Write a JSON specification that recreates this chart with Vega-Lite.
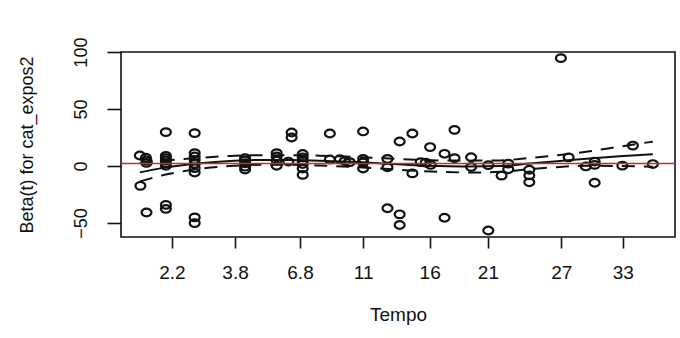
{
  "$schema": "https://vega.github.io/schema/vega-lite/v6.json",
  "width": 554,
  "height": 185,
  "autosize": {"type": "none"},
  "padding": {"left": 121, "top": 52, "right": 5, "bottom": 101},
  "background": "white",
  "config": {
    "view": {"stroke": "#111111", "strokeWidth": 1.6},
    "font": "Liberation Sans"
  },
  "datasets": {
    "resid": [
      {"t": 3.4, "beta": 9.3}, {"t": 3.5, "beta": -17.3},
      {"t": 4.5, "beta": 7.3}, {"t": 4.6, "beta": 4.9}, {"t": 4.6, "beta": 2.8}, {"t": 4.6, "beta": -40.7},
      {"t": 8.1, "beta": 29.8}, {"t": 8.1, "beta": 9.0}, {"t": 8.1, "beta": 7.0}, {"t": 8.1, "beta": 4.9}, {"t": 8.1, "beta": 2.6}, {"t": 8.1, "beta": 0.3}, {"t": 8.1, "beta": -34.0}, {"t": 8.1, "beta": -37.5},
      {"t": 13.3, "beta": 28.9}, {"t": 13.3, "beta": 11.4}, {"t": 13.3, "beta": 8.4}, {"t": 13.3, "beta": 5.5}, {"t": 13.3, "beta": 2.0}, {"t": 13.3, "beta": -1.8}, {"t": 13.3, "beta": -5.6}, {"t": 13.3, "beta": -45.0}, {"t": 13.3, "beta": -50.0},
      {"t": 22.4, "beta": 7.0}, {"t": 22.4, "beta": 5.0}, {"t": 22.4, "beta": 2.5}, {"t": 22.4, "beta": -0.5}, {"t": 22.4, "beta": -3.0},
      {"t": 28.1, "beta": 11.4}, {"t": 28.1, "beta": 8.4}, {"t": 28.1, "beta": 4.9}, {"t": 28.1, "beta": 0.3}, {"t": 30.2, "beta": 4.0},
      {"t": 30.8, "beta": 29.5}, {"t": 30.8, "beta": 25.1},
      {"t": 32.8, "beta": 10.6}, {"t": 32.8, "beta": 7.7}, {"t": 32.8, "beta": 4.7}, {"t": 32.8, "beta": 1.8}, {"t": 32.8, "beta": -2.1}, {"t": 32.8, "beta": -7.7},
      {"t": 37.7, "beta": 28.6}, {"t": 37.7, "beta": 5.8},
      {"t": 39.5, "beta": 6.0}, {"t": 40.4, "beta": 4.5}, {"t": 41.3, "beta": 3.5},
      {"t": 43.7, "beta": 30.4}, {"t": 43.7, "beta": 6.3}, {"t": 43.7, "beta": 3.3}, {"t": 43.7, "beta": -2.1},
      {"t": 48.1, "beta": 6.3}, {"t": 48.1, "beta": -1.0}, {"t": 48.1, "beta": -37.0},
      {"t": 50.3, "beta": 21.6}, {"t": 50.3, "beta": -42.3}, {"t": 50.3, "beta": -51.7},
      {"t": 52.6, "beta": 28.6}, {"t": 52.6, "beta": -6.4},
      {"t": 54.1, "beta": 3.5}, {"t": 55.0, "beta": 3.0}, {"t": 55.9, "beta": 1.0}, {"t": 55.8, "beta": 16.7},
      {"t": 58.4, "beta": 10.8}, {"t": 58.4, "beta": -45.3},
      {"t": 60.2, "beta": 31.8}, {"t": 60.2, "beta": 7.0},
      {"t": 63.2, "beta": 7.8}, {"t": 63.2, "beta": -0.8},
      {"t": 66.3, "beta": 0.8}, {"t": 66.3, "beta": -56.5},
      {"t": 68.7, "beta": -8.3},
      {"t": 69.9, "beta": 2.2}, {"t": 69.9, "beta": -2.8},
      {"t": 73.7, "beta": -3.2}, {"t": 73.7, "beta": -8.2}, {"t": 73.7, "beta": -14.2},
      {"t": 79.4, "beta": 94.7}, {"t": 80.8, "beta": 7.7}, {"t": 83.9, "beta": -0.3},
      {"t": 85.5, "beta": 4.0}, {"t": 85.5, "beta": 1.1}, {"t": 85.5, "beta": -14.6},
      {"t": 90.5, "beta": 0.4}, {"t": 92.4, "beta": 18.0}, {"t": 96.0, "beta": 1.8}
    ],
    "smooth": [
      {"t": 3.4, "fit": -5.5, "upper": 2.5, "lower": -13.5},
      {"t": 7.1, "fit": -2.0, "upper": 4.5, "lower": -8.5},
      {"t": 10.7, "fit": 0.5, "upper": 6.0, "lower": -5.0},
      {"t": 14.3, "fit": 2.5, "upper": 7.3, "lower": -2.3},
      {"t": 19.7, "fit": 4.5, "upper": 8.9, "lower": 0.1},
      {"t": 25.1, "fit": 5.3, "upper": 9.5, "lower": 1.1},
      {"t": 30.5, "fit": 5.3, "upper": 9.5, "lower": 1.1},
      {"t": 35.9, "fit": 4.8, "upper": 9.1, "lower": 0.5},
      {"t": 41.3, "fit": 3.8, "upper": 8.2, "lower": -0.6},
      {"t": 46.7, "fit": 2.5, "upper": 7.1, "lower": -2.1},
      {"t": 52.1, "fit": 1.0, "upper": 5.8, "lower": -3.8},
      {"t": 57.5, "fit": 0.0, "upper": 5.0, "lower": -5.0},
      {"t": 62.9, "fit": -0.4, "upper": 4.8, "lower": -5.6},
      {"t": 68.4, "fit": 0.0, "upper": 5.0, "lower": -5.0},
      {"t": 73.8, "fit": 2.2, "upper": 7.1, "lower": -2.7},
      {"t": 79.2, "fit": 4.5, "upper": 9.7, "lower": -0.7},
      {"t": 84.6, "fit": 6.7, "upper": 13.0, "lower": 0.4},
      {"t": 90.0, "fit": 8.6, "upper": 17.1, "lower": 0.1},
      {"t": 96.0, "fit": 10.5, "upper": 21.5, "lower": -0.5}
    ],
    "coef": [{"beta": 2.3}]
  },
  "layer": [
    {
      "data": {"name": "resid"},
      "mark": {
        "type": "point",
        "shape": "M-1.3,0A1.3,1 0 1,0 1.3,0A1.3,1 0 1,0 -1.3,0Z",
        "filled": false,
        "color": "#111111",
        "strokeWidth": 2.2,
        "size": 58,
        "opacity": 1
      },
      "encoding": {
        "x": {
          "field": "t",
          "type": "quantitative",
          "scale": {"domain": [0, 100], "nice": false, "zero": false},
          "axis": {
            "title": "Tempo",
            "values": [9.19, 20.59, 32.31, 43.71, 55.71, 66.23, 79.46, 90.56],
            "labelExpr": "datum.value < 15 ? '2.2' : datum.value < 26 ? '3.8' : datum.value < 38 ? '6.8' : datum.value < 50 ? '11' : datum.value < 60 ? '16' : datum.value < 72 ? '21' : datum.value < 85 ? '27' : '33'",
            "domain": false,
            "grid": false,
            "tickSize": 11,
            "tickWidth": 1.6,
            "tickColor": "#111111",
            "labelFont": "Liberation Sans",
            "labelFontSize": 19,
            "labelColor": "#111111",
            "labelPadding": 15,
            "labelBaseline": "top",
            "labelFlush": false,
            "labelOverlap": false,
            "titleFont": "Liberation Sans",
            "titleFontSize": 19,
            "titleFontWeight": "normal",
            "titleColor": "#111111",
            "titleX": 277,
            "titleY": 83.7,
            "titleAlign": "center",
            "titleBaseline": "alphabetic"
          }
        },
        "y": {
          "field": "beta",
          "type": "quantitative",
          "scale": {"domain": [-62.2, 100.1], "nice": false, "zero": false},
          "axis": {
            "title": "Beta(t) for cat_expos2",
            "values": [-50, 0, 50, 100],
            "domain": false,
            "grid": false,
            "tickSize": 14,
            "tickWidth": 1.6,
            "tickColor": "#111111",
            "labelAngle": -90,
            "labelAlign": "center",
            "labelBaseline": "bottom",
            "labelPadding": 17,
            "labelFont": "Liberation Sans",
            "labelFontSize": 18,
            "labelColor": "#111111",
            "labelFlush": false,
            "labelOverlap": false,
            "labelBound": false,
            "titleFont": "Liberation Sans",
            "titleFontSize": 18,
            "titleFontWeight": "normal",
            "titleColor": "#111111",
            "titleAngle": -90,
            "titleX": -94,
            "titleY": 92.5,
            "titleAlign": "center",
            "titleBaseline": "middle"
          }
        }
      }
    },
    {
      "data": {"name": "smooth"},
      "mark": {"type": "line", "color": "#111111", "strokeWidth": 2, "interpolate": "monotone"},
      "encoding": {
        "x": {"field": "t", "type": "quantitative"},
        "y": {"field": "fit", "type": "quantitative"}
      }
    },
    {
      "data": {"name": "smooth"},
      "mark": {"type": "line", "color": "#111111", "strokeWidth": 2, "strokeDash": [13, 9], "interpolate": "monotone"},
      "encoding": {
        "x": {"field": "t", "type": "quantitative"},
        "y": {"field": "upper", "type": "quantitative"}
      }
    },
    {
      "data": {"name": "smooth"},
      "mark": {"type": "line", "color": "#111111", "strokeWidth": 2, "strokeDash": [13, 9], "interpolate": "monotone"},
      "encoding": {
        "x": {"field": "t", "type": "quantitative"},
        "y": {"field": "lower", "type": "quantitative"}
      }
    },
    {
      "data": {"name": "coef"},
      "mark": {"type": "rule", "color": "#c03030", "strokeWidth": 1.3},
      "encoding": {
        "y": {"field": "beta", "type": "quantitative"}
      }
    }
  ]
}
